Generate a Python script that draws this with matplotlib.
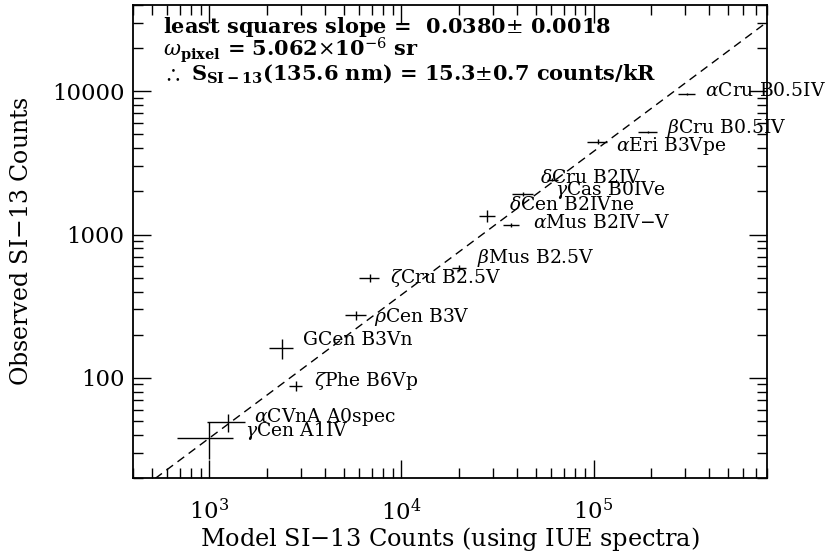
import numpy as np
import matplotlib
matplotlib.use("Agg")
import matplotlib.pyplot as plt
from matplotlib.ticker import LogLocator, FixedLocator, FixedFormatter, NullFormatter

plt.rcParams['font.family'] = 'DejaVu Serif'
plt.rcParams['mathtext.fontset'] = 'dejavuserif'

# Star data: model counts (x) vs observed counts (y)
names = [r"$\alpha$Cru B0.5IV", r"$\beta$Cru B0.5IV", r"$\alpha$Eri B3Vpe",
         r"$\delta$Cru B2IV", r"$\gamma$Cas B0IVe", r"$\delta$Cen B2IVne",
         r"$\alpha$Mus B2IV$-$V", r"$\beta$Mus B2.5V", r"$\zeta$Cru B2.5V",
         r"$\rho$Cen B3V", "GCen B3Vn", r"$\zeta$Phe B6Vp",
         r"$\alpha$CVnA A0spec", r"$\gamma$Cen A1IV"]
model = [3.07e5, 1.92e5, 1.05e5, 6.1e4, 4.3e4, 2.8e4, 3.74e4, 2.0e4,
         6840, 5830, 2380, 2820, 1250, 1000]
model_err = [32000, 21000, 12600, 4000, 5200, 2800, 3500, 1700,
             840, 740, 330, 210, 275, 320]
observed = [9550, 5190, 4440, 2410, 1920, 1350, 1170, 586,
            497, 275, 161, 88, 49, 38]
observed_err = [120, 90, 180, 60, 50, 135, 40, 25,
                33, 20, 25, 7, 7, 11]

# label offsets in pixels (dx, dy)
label_off = [(18, 3), (19, 4), (18, -4), (-12, 2), (32, 4), (22, 11),
             (22, 2), (18, 10), (20, 0), (18, -2), (21, 8), (18, 5),
             (26, 5), (36, 7)]

slope = 0.0380
xlim = (400, 8e5)
ylim = (20, 4e4)

fig = plt.figure(figsize=(8.28, 5.52), dpi=100)
ax = fig.add_axes([0.1606, 0.1341, 0.7657, 0.8568])

ax.errorbar(model, observed, xerr=model_err, yerr=observed_err,
            fmt='none', ecolor='black', elinewidth=1.0, capsize=0)

# least squares fit line through the origin
xl = np.array(xlim)
ax.plot(xl, slope * xl, color='black', linestyle=(0, (6, 4)), linewidth=1.0)

for n, x, y, off in zip(names, model, observed, label_off):
    ax.annotate(n, (x, y), xytext=off, textcoords='offset pixels',
                ha='left', va='center', fontsize=13.5, annotation_clip=False)

ax.set_xscale('log')
ax.set_yscale('log')
ax.set_xlim(*xlim)
ax.set_ylim(*ylim)

ax.yaxis.set_major_locator(FixedLocator([100, 1000, 10000]))
ax.yaxis.set_major_formatter(FixedFormatter(['100', '1000', '10000']))
ax.yaxis.set_minor_locator(LogLocator(base=10, subs=np.arange(2, 10)))
ax.yaxis.set_minor_formatter(NullFormatter())
ax.xaxis.set_minor_locator(LogLocator(base=10, subs=np.arange(2, 10)))
ax.xaxis.set_minor_formatter(NullFormatter())

ax.tick_params(which='both', direction='in', top=True, right=True, labelsize=16.5)
ax.tick_params(which='major', length=13, width=1.0)
ax.tick_params(which='minor', length=7, width=1.0)
ax.tick_params(axis='x', pad=15)
ax.tick_params(axis='y', pad=6)
for s in ax.spines.values():
    s.set_linewidth(1.3)

ax.set_xlabel('Model SI$-$13 Counts (using IUE spectra)', fontsize=17.3, va='top')
ax.set_ylabel('Observed SI$-$13 Counts', fontsize=17)
ax.xaxis.set_label_coords(0.5, -0.100)
ax.yaxis.set_label_coords(-0.158, 0.5)

txt = [r"least squares slope =  0.0380$\pm$ 0.0018",
       r"$\omega_{\mathbf{pixel}}$ = 5.062$\times$10$^{-6}$ sr",
       r"$\therefore$ S$_{\mathbf{SI-13}}$(135.6 nm) = 15.3$\pm$0.7 counts/kR"]
baselines = [33, 56, 80]
for t, b in zip(txt, baselines):
    fig.text(163 / 828, 1 - b / 552, t, ha='left', va='baseline',
             fontsize=15, fontweight='bold')

fig.savefig('out.png', dpi=100)
